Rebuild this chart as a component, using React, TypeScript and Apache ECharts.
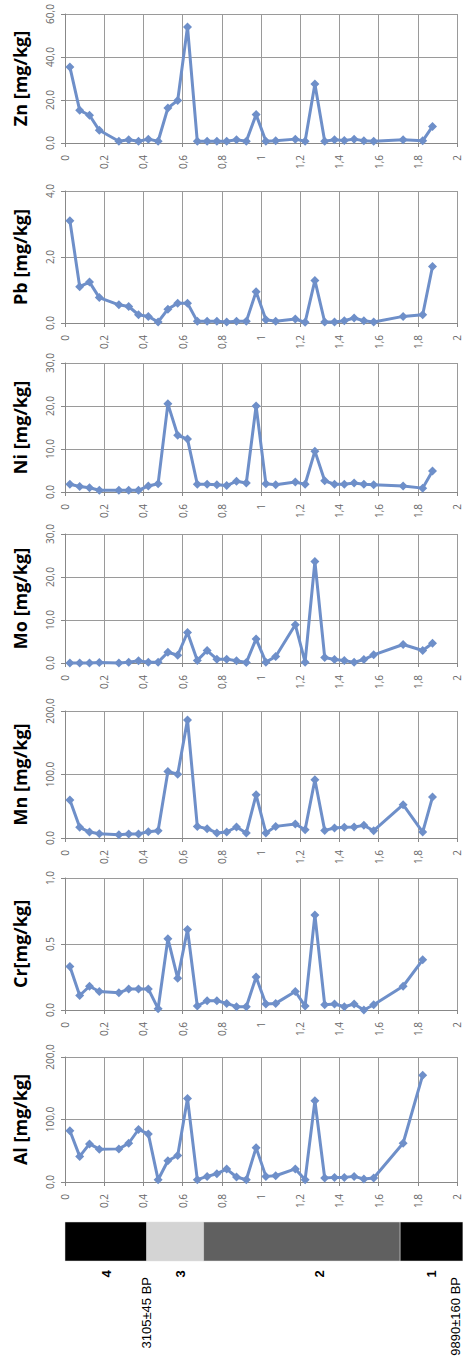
import React, { useEffect, useRef } from "react";
import * as echarts from "echarts";

// Sample depths [m]
const depths = [
  0.025, 0.075, 0.125, 0.175, 0.275, 0.325, 0.375, 0.425, 0.475, 0.525, 0.575,
  0.625, 0.675, 0.725, 0.775, 0.825, 0.875, 0.925, 0.975, 1.025, 1.075, 1.175,
  1.225, 1.275, 1.325, 1.375, 1.425, 1.475, 1.525, 1.575, 1.725, 1.825, 1.875,
];

const zn = [35.3, 15.2, 12.9, 5.9, 0.8, 1.5, 0.8, 1.8, 0.8, 16.3, 19.8, 54.0, 0.8, 0.8, 0.8, 0.8, 1.5, 0.8, 13.2, 0.8, 1.0, 1.8, 0.8, 27.4, 0.8, 1.5, 1.2, 1.8, 1.0, 0.8, 1.5, 1.0, 7.7];
const pb = [3.1, 1.1, 1.24, 0.77, 0.55, 0.5, 0.25, 0.2, 0.03, 0.42, 0.6, 0.6, 0.05, 0.05, 0.05, 0.03, 0.05, 0.05, 0.95, 0.1, 0.05, 0.12, 0.02, 1.29, 0.03, 0.03, 0.07, 0.15, 0.07, 0.03, 0.2, 0.25, 1.71];
const ni = [1.8, 1.3, 1.0, 0.4, 0.4, 0.4, 0.4, 1.4, 1.9, 20.5, 13.2, 12.3, 1.8, 1.8, 1.7, 1.5, 2.5, 2.1, 20.0, 1.9, 1.7, 2.3, 1.8, 9.5, 2.6, 1.8, 1.8, 2.1, 1.8, 1.7, 1.4, 0.9, 4.9];
const mo = [0.0, 0.0, 0.0, 0.1, 0.0, 0.2, 0.5, 0.2, 0.2, 2.5, 1.8, 7.1, 0.6, 2.9, 0.9, 0.9, 0.5, 0.1, 5.6, 0.2, 1.5, 8.9, 0.2, 23.6, 1.3, 0.8, 0.6, 0.15, 0.8, 1.9, 4.3, 2.9, 4.6];
const mn = [60, 16.8, 9.4, 6.8, 5.2, 6.3, 6.3, 10, 11.5, 104.7, 100.5, 186, 18.3, 14.7, 7.9, 9.4, 17.3, 7.9, 68, 7.9, 18.3, 22, 13, 91.6, 12, 15.7, 16.8, 17.3, 19.9, 11.5, 52.4, 9.4, 64.4];
const cr = [0.33, 0.11, 0.18, 0.14, 0.13, 0.16, 0.16, 0.16, 0.01, 0.54, 0.24, 0.61, 0.03, 0.07, 0.07, 0.05, 0.025, 0.025, 0.25, 0.045, 0.05, 0.14, 0.03, 0.72, 0.04, 0.045, 0.025, 0.045, 0.0, 0.04, 0.18, 0.38];
const al = [82, 41, 61, 52.5, 53, 62, 84, 77, 3.7, 34, 42.4, 133.7, 3.7, 9, 13.3, 20.7, 8, 3.7, 55, 9, 10, 21, 3.7, 130, 6.4, 7.4, 7.4, 9, 4.8, 6.4, 62, 171];

const panelNames = ["Zn [mg/kg]", "Pb [mg/kg]", "Ni [mg/kg]", "Mo [mg/kg]", "Mn [mg/kg]", "Cr[mg/kg]", "Al [mg/kg]"];
const panelValues = [zn, pb, ni, mo, mn, cr, al];
const panelMax = [60, 4, 30, 30, 200, 1, 200];
const panelInterval = [20, 2, 10, 10, 100, 0.5, 100];

// Stratigraphy
const layerNames = ["4", "3", "2", "1"];
const layerTop = [0, 0.417, 0.707, 1.71];
const layerBottom = [0.417, 0.707, 1.71, 2.03];
const layerLabelDepth = [0.21, 0.587, 1.3, 1.87];
const dateDepths = [0.417, 1.99];
const dateLabels = ["3105±45 BP", "9890±160 BP"];

// layout / style
const gridTops = [14, 191, 363, 534, 711, 878, 1057];
const gridHeights = [129, 132, 129, 129, 127, 132, 125];
const layerColors = ["#000000", "#d4d4d4", "#606060", "#000000"];
const LINE = "#6e8fc9";
const GRIDC = "#9a9a9a";
const FONT = "'Open Sans', sans-serif";

const fmtX = (v: number) => String(+v.toFixed(1)).replace(".", ",");
const fmtY = (v: number) => v.toFixed(1).replace(".", ",");

export default function App() {
  const ref = useRef<HTMLDivElement>(null);
  useEffect(() => {
    if (!ref.current) return;
    const chart = echarts.init(ref.current, undefined, { renderer: "svg" });
    const n = panelNames.length;
    const grid: any[] = gridTops.map((t, i) => ({ left: 65, width: 392, top: t, height: gridHeights[i] }));
    grid.push({ left: 65, width: 392, top: 1222, height: 39 });

    const xAxis: any[] = panelNames.map((_, i) => ({
      type: "value",
      gridIndex: i,
      min: 0,
      max: 2,
      interval: 0.2,
      axisLine: { show: true, onZero: false, lineStyle: { color: "#888", width: 1 } },
      axisTick: { show: true, length: 4, lineStyle: { color: "#888" } },
      splitLine: { show: true, lineStyle: { color: GRIDC, width: 1 } },
      axisLabel: { rotate: 90, margin: 12, fontSize: 10, color: "#666", fontFamily: FONT, formatter: fmtX },
    }));
    xAxis.push({ type: "value", gridIndex: n, min: 0, max: 2, show: false });

    const yAxis: any[] = panelNames.map((name, i) => ({
      type: "value",
      gridIndex: i,
      min: 0,
      max: panelMax[i],
      interval: panelInterval[i],
      name,
      nameLocation: "middle",
      nameRotate: 90,
      nameGap: 36,
      nameTextStyle: { fontSize: 18, fontWeight: "bold", color: "#000", fontFamily: FONT },
      axisLine: { show: true, lineStyle: { color: "#888", width: 1 } },
      axisTick: { show: true, length: 4, lineStyle: { color: "#888" } },
      splitLine: { show: true, lineStyle: { color: GRIDC, width: 1 } },
      axisLabel: { rotate: 90, margin: 10, fontSize: 10, color: "#666", fontFamily: FONT, formatter: fmtY },
    }));
    yAxis.push({ type: "value", gridIndex: n, min: 0, max: 1, show: false });

    const series: any[] = panelValues.map((vals, i) => ({
      type: "line",
      xAxisIndex: i,
      yAxisIndex: i,
      data: vals.map((v, j) => [depths[j], v]),
      symbol: "diamond",
      symbolSize: 9,
      clip: false,
      lineStyle: { color: LINE, width: 3 },
      itemStyle: { color: LINE },
    }));

    series.push({
      type: "custom",
      xAxisIndex: n,
      yAxisIndex: n,
      clip: false,
      data: layerTop.map((t, i) => [t, layerBottom[i], layerLabelDepth[i]]),
      renderItem: (params: any, api: any) => {
        const cs = params.coordSys;
        const x0 = api.coord([api.value(0), 0])[0];
        const x1 = api.coord([api.value(1), 0])[0];
        const xl = api.coord([api.value(2), 0])[0];
        const i = params.dataIndex;
        return {
          type: "group",
          children: [
            {
              type: "rect",
              shape: { x: x0, y: cs.y, width: x1 - x0, height: cs.height },
              style: { fill: layerColors[i], stroke: "#e0e0e0", lineWidth: 0.5 },
            },
            {
              type: "text",
              x: xl,
              y: cs.y + cs.height + 13,
              rotation: Math.PI / 2,
              style: {
                text: layerNames[i],
                fill: "#000",
                font: "bold 13px 'Liberation Sans', Arial, sans-serif",
                align: "center",
                verticalAlign: "middle",
              },
            },
          ],
        };
      },
    });

    series.push({
      type: "custom",
      xAxisIndex: n,
      yAxisIndex: n,
      clip: false,
      data: dateDepths.map((d) => [d, 0]),
      renderItem: (params: any, api: any) => {
        const cs = params.coordSys;
        const x = api.coord([api.value(0), 0])[0];
        return {
          type: "text",
          x,
          y: cs.y + cs.height + 16,
          rotation: Math.PI / 2,
          style: {
            text: dateLabels[params.dataIndex],
            fill: "#000",
            font: "13px 'Liberation Sans', Arial, sans-serif",
            align: "right",
            verticalAlign: "middle",
          },
        };
      },
    });

    chart.setOption({
      animation: false,
      backgroundColor: "#ffffff",
      grid,
      xAxis,
      yAxis,
      series,
    });
    return () => chart.dispose();
  }, []);
  return <div ref={ref} style={{ position: "absolute", left: 0, top: 0, width: 463, height: 1358 }} />;
}
